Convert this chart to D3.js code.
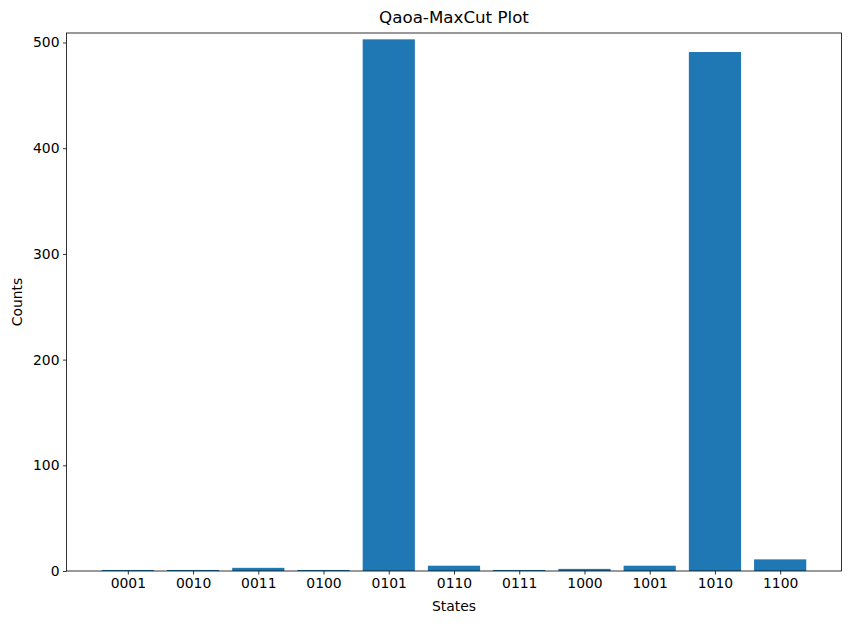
<!DOCTYPE html>
<html>
<head>
<meta charset="utf-8">
<script src="https://cdn.jsdelivr.net/npm/d3@7"></script>
<style>
  body { margin: 0; background: #fff; }
  text { font-family: "DejaVu Sans", sans-serif; }
</style>
</head>
<body>
<svg class="chart" width="850" height="624"></svg>
<script>
const states = ["0001", "0010", "0011", "0100", "0101", "0110", "0111", "1000", "1001", "1010", "1100"];
const counts = [1, 1, 3, 1, 503, 5, 1, 2, 5, 491, 11];
const yTicks = [0, 100, 200, 300, 400, 500];

const svg = d3.select(".chart");
const width = 850;
const height = 624;

const margin = { left: 66.5, right: 8.5, top: 33, bottom: 53 };
const plotW = width - margin.left - margin.right;
const plotH = height - margin.top - margin.bottom;

const barW = 0.8;
const n = states.length;
const pad = (n - 1 + barW) * 0.05;

// matplotlib-like continuous x with 5% margin
const x = d3.scaleLinear()
  .domain([-barW / 2 - pad, n - 1 + barW / 2 + pad])
  .range([0, plotW]);

const y = d3.scaleLinear()
  .domain([0, 509])
  .range([plotH, 0]);

const g = svg.append("g")
  .attr("transform", `translate(${margin.left}, ${margin.top})`);

// bars
g.selectAll("rect.bar")
  .data(counts)
  .join("rect")
  .attr("class", "bar")
  .attr("x", (d, i) => x(i - barW / 2))
  .attr("width", (d, i) => x(i + barW / 2) - x(i - barW / 2))
  .attr("y", d => y(d))
  .attr("height", d => y(0) - y(d))
  .attr("fill", "#1f77b4");

// x axis
const xAxis = g.append("g")
  .attr("transform", `translate(0, ${plotH})`)
  .call(d3.axisBottom(x)
    .tickValues(d3.range(n))
    .tickFormat(i => states[i])
    .tickSize(3.5)
    .tickPadding(3.5));

// y axis
const yAxis = g.append("g")
  .call(d3.axisLeft(y)
    .tickValues(yTicks)
    .tickSize(3.5)
    .tickPadding(3.5));

[xAxis, yAxis].forEach(ax => {
  ax.select(".domain").remove();
  ax.selectAll(".tick line").attr("stroke", "#000").attr("stroke-width", 0.8);
  ax.selectAll(".tick text")
    .attr("fill", "#000")
    .style("font-size", "13.9px")
    .style("font-family", "DejaVu Sans, sans-serif");
});

// frame
g.append("rect")
  .attr("x", 0)
  .attr("y", 0)
  .attr("width", plotW)
  .attr("height", plotH)
  .attr("fill", "none")
  .attr("stroke", "#000")
  .attr("stroke-width", 0.8);

// title and labels
svg.append("text")
  .attr("x", margin.left + plotW / 2)
  .attr("y", 23)
  .attr("text-anchor", "middle")
  .style("font-size", "16.7px")
  .text("Qaoa-MaxCut Plot");

svg.append("text")
  .attr("x", margin.left + plotW / 2)
  .attr("y", 611)
  .attr("text-anchor", "middle")
  .style("font-size", "13.9px")
  .text("States");

svg.append("text")
  .attr("transform", `translate(22, ${margin.top + plotH / 2}) rotate(-90)`)
  .attr("text-anchor", "middle")
  .style("font-size", "13.9px")
  .text("Counts");
</script>
</body>
</html>
